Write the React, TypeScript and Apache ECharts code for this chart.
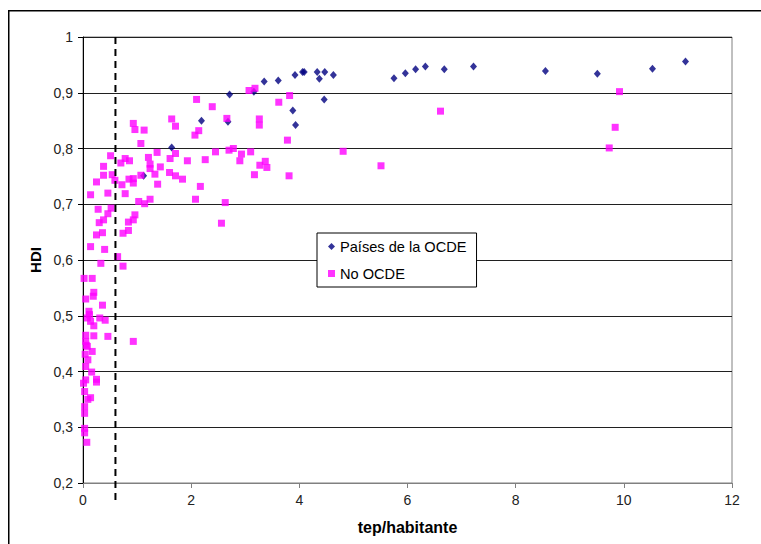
import React, { useEffect, useRef } from "react";
import * as echarts from "echarts";

const xTicks = [0, 2, 4, 6, 8, 10, 12];
const yTicks = [0.2, 0.3, 0.4, 0.5, 0.6, 0.7, 0.8, 0.9, 1];
const thresholdX = 0.6;

const ocdeName = "Países de la OCDE";
const noOcdeName = "No OCDE";

const ocdeX = [1.12, 1.64, 2.19, 2.68, 2.71, 3.16, 3.35, 3.61, 3.88, 3.92, 3.93, 4.06, 4.09, 4.33, 4.37, 4.46, 4.47, 4.63, 5.75, 5.96, 6.15, 6.33, 6.68, 7.22, 8.55, 9.51, 10.53, 11.14];
const ocdeY = [0.751, 0.802, 0.85, 0.848, 0.897, 0.902, 0.92, 0.922, 0.868, 0.932, 0.842, 0.937, 0.937, 0.937, 0.925, 0.888, 0.937, 0.932, 0.926, 0.935, 0.942, 0.947, 0.942, 0.947, 0.939, 0.934, 0.943, 0.956];

const noOcdeX = [
  2.10, 2.39, 2.66, 3.26, 3.26, 2.14, 2.07, 3.07, 3.18, 3.62, 3.82, 3.78, 4.81, 5.51, 2.78, 2.70, 2.93, 2.90, 3.10, 2.45,
  1.93, 2.26, 1.84, 2.17, 2.08, 2.63, 3.37, 3.27, 3.40, 3.17, 3.81, 2.56, 6.61, 9.92, 9.84, 9.73,
  0.93, 0.96, 1.13, 1.07, 1.64, 1.71, 1.71, 1.61, 1.37, 1.43, 1.38, 1.33, 1.60, 1.71, 1.21, 1.24, 1.24,
  1.07, 0.78, 0.86, 0.70, 0.72, 0.78, 0.85, 0.93, 0.93, 1.03, 1.14, 1.24, 0.38, 0.38, 0.25, 0.51, 0.54,
  0.59, 0.14, 0.28, 0.46, 0.52, 0.96,
  0.84, 0.93, 0.46, 0.38, 0.30, 0.84, 0.74, 0.36, 0.25, 0.14, 0.40, 0.64, 0.74, 0.33, 0.02, 0.17, 0.20,
  0.05, 0.19, 0.36, 0.11, 0.08, 0.14, 0.31, 0.41, 0.20, 0.05, 0.20, 0.46, 0.93, 0.05, 0.06, 0.08, 0.17,
  0.09, 0.05, 0.16, 0.25, 0.25, 0.01, 0.05, 0.03, 0.14, 0.09, 0.03, 0.03, 0.03, 0.03, 0.07, 0.12, 0.04
];
const noOcdeY = [
  0.888, 0.875, 0.854, 0.853, 0.842, 0.832, 0.824, 0.904, 0.908, 0.883, 0.895, 0.815, 0.795, 0.769, 0.8, 0.797, 0.79, 0.778, 0.794, 0.794,
  0.778, 0.78, 0.745, 0.732, 0.709, 0.703, 0.777, 0.77, 0.766, 0.753, 0.751, 0.666, 0.867, 0.902, 0.838, 0.801,
  0.845, 0.834, 0.833, 0.809, 0.853, 0.84, 0.791, 0.782, 0.793, 0.767, 0.736, 0.754, 0.757, 0.751, 0.784, 0.772, 0.764,
  0.752, 0.782, 0.778, 0.774, 0.735, 0.719, 0.745, 0.746, 0.738, 0.705, 0.701, 0.709, 0.752, 0.768, 0.74, 0.787, 0.753,
  0.743, 0.717, 0.691, 0.72, 0.693, 0.681,
  0.668, 0.672, 0.683, 0.672, 0.667, 0.653, 0.648, 0.649, 0.645, 0.624, 0.619, 0.606, 0.589, 0.594, 0.567, 0.567, 0.542,
  0.53, 0.535, 0.519, 0.508, 0.496, 0.49, 0.496, 0.492, 0.482, 0.465, 0.464, 0.463, 0.454, 0.454, 0.447, 0.445, 0.436,
  0.421, 0.409, 0.399, 0.386, 0.381, 0.379, 0.385, 0.364, 0.353, 0.35, 0.337, 0.325, 0.298, 0.29, 0.273, 0.502, 0.431
];

const FONT = "'Liberation Sans', Arial, sans-serif";

export default function App() {
  const ref = useRef<HTMLDivElement>(null);

  useEffect(() => {
    if (!ref.current) return;
    const chart = echarts.init(ref.current, undefined, { renderer: "svg" });
    const ocdeData = ocdeX.map((x, i) => [x, ocdeY[i]]);
    const noOcdeData = noOcdeX.map((x, i) => [x, noOcdeY[i]]);

    chart.setOption({
      animation: false,
      backgroundColor: "#fff",
      textStyle: { fontFamily: FONT },
      grid: {
        left: 83,
        top: 37,
        right: 29,
        bottom: 61,
        show: true,
        borderColor: "#808080",
        borderWidth: 1,
        backgroundColor: "transparent",
      },
      legend: {
        orient: "vertical",
        left: 317,
        top: 233,
        padding: [6, 10, 6, 11],
        itemGap: 12,
        itemWidth: 7,
        itemHeight: 7,
        borderColor: "#000",
        borderWidth: 1,
        borderRadius: 0,
        backgroundColor: "#fff",
        selectedMode: false,
        textStyle: { fontSize: 14.6, color: "#000", fontFamily: FONT },
        data: [
          { name: ocdeName, icon: "diamond" },
          { name: noOcdeName, icon: "rect" },
        ],
      },
      xAxis: {
        type: "value",
        min: xTicks[0],
        max: xTicks[xTicks.length - 1],
        interval: 2,
        name: "tep/habitante",
        nameLocation: "middle",
        nameGap: 36,
        nameTextStyle: { fontSize: 16, fontWeight: "bold", color: "#000", fontFamily: FONT },
        axisLine: { show: true, onZero: false, lineStyle: { color: "#808080", width: 1 } },
        axisTick: { show: true, inside: false, length: 5, lineStyle: { color: "#808080" } },
        axisLabel: { fontSize: 14, color: "#222", margin: 10, fontFamily: FONT },
        splitLine: { show: false },
      },
      yAxis: {
        type: "value",
        min: yTicks[0],
        max: yTicks[yTicks.length - 1],
        interval: 0.1,
        name: "HDI",
        nameLocation: "middle",
        nameGap: 28,
        nameTextStyle: { fontSize: 15, fontWeight: "bold", color: "#000", fontFamily: FONT },
        axisLine: { show: true, onZero: false, lineStyle: { color: "#000", width: 1 } },
        axisTick: { show: true, inside: false, length: 5, lineStyle: { color: "#000" } },
        axisLabel: {
          fontSize: 14,
          color: "#222",
          margin: 10,
          fontFamily: FONT,
          formatter: (v: number) => (Math.abs(v - 1) < 1e-9 ? "1" : v.toFixed(1).replace(".", ",")),
        },
        splitLine: { show: true, lineStyle: { color: "#202020", width: 1 } },
      },
      series: [
        {
          name: ocdeName,
          type: "scatter",
          symbol: "diamond",
          symbolSize: [7, 8],
          itemStyle: { color: "#000080" },
          data: ocdeData,
          z: 3,
        },
        {
          name: noOcdeName,
          type: "scatter",
          symbol: "rect",
          symbolSize: 7,
          itemStyle: { color: "#FF00FF" },
          data: noOcdeData,
          z: 4,
        },
      ],
    });

    const top = chart.convertToPixel({ gridIndex: 0 }, [thresholdX, yTicks[yTicks.length - 1]]) as number[];
    const bottom = chart.convertToPixel({ gridIndex: 0 }, [thresholdX, yTicks[0]]) as number[];

    chart.setOption({
      graphic: [
        {
          type: "line",
          shape: { x1: top[0], y1: top[1], x2: bottom[0], y2: bottom[1] + 22 },
          style: { stroke: "#000", lineWidth: 2, lineDash: [7, 5] },
          z: 10,
        },
        {
          type: "line",
          shape: { x1: 8, y1: 10.75, x2: 761, y2: 10.75 },
          style: { stroke: "#000", lineWidth: 1.5 },
        },
        {
          type: "line",
          shape: { x1: 8.75, y1: 10, x2: 8.75, y2: 544 },
          style: { stroke: "#000", lineWidth: 1.5 },
        },
      ],
    });

    return () => chart.dispose();
  }, []);

  return (
    <div
      ref={ref}
      style={{ position: "absolute", left: 0, top: 0, width: 761, height: 544, background: "#fff" }}
    />
  );
}
